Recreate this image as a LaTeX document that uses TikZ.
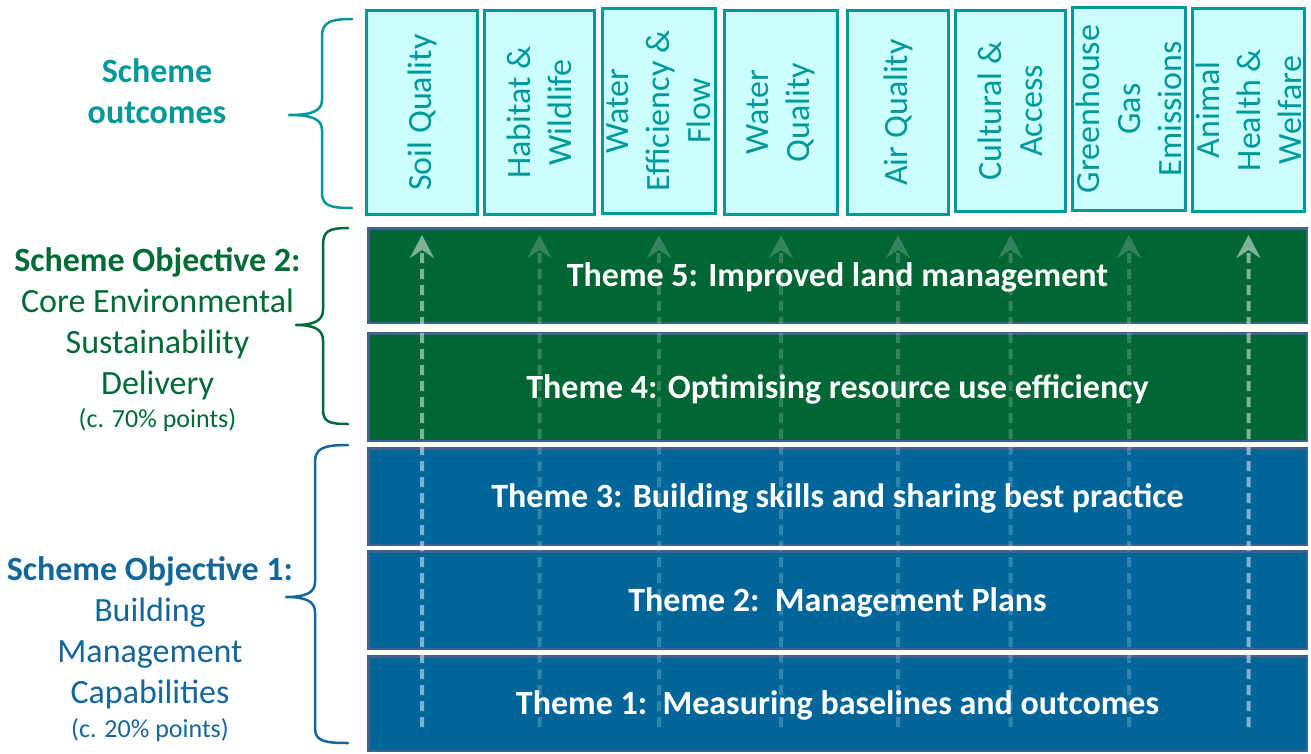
\documentclass[tikz,border=0pt]{standalone}
\usepackage{fontspec}
\setmainfont{Carlito}
\usetikzlibrary{arrows.meta}
\definecolor{tealc}{HTML}{009999}
\definecolor{cyanfill}{HTML}{CCFFFF}
\definecolor{greenbar}{HTML}{006633}
\definecolor{bluebar}{HTML}{006699}
\definecolor{barline}{HTML}{41618F}
\definecolor{greentext}{HTML}{006B35}
\definecolor{bluetext}{HTML}{15679B}
\begin{document}
\begin{tikzpicture}[x=1pt,y=-1pt,
  outbox/.style={draw=tealc, fill=cyanfill, line width=3pt, text=tealc,
    font=\fontsize{34}{41}\selectfont, align=center, inner sep=0pt, rotate=90},
  bar/.style={draw=barline, line width=2.5pt, minimum width=938.5pt, text=white,
    font=\bfseries\fontsize{34}{41}\selectfont, text height=22pt, text depth=0pt, inner sep=0pt},
  lefttext/.style={align=center, inner sep=0pt, anchor=base, font=\fontsize{34}{41}\selectfont},
  brace/.style={line width=2.5pt, line cap=round, line join=round},
  flow/.style={white, line width=4pt, dash pattern=on 10pt off 6pt,
    -{Stealth[length=23pt,width=24pt,inset=8pt]}}
]
\useasboundingbox (0,0) rectangle (1311,753);
\fill[white] (0,0) rectangle (1311,753);

% outcome boxes
\node[outbox, minimum width=204pt, minimum height=111pt] (o1) at (422,112.5) {Soil Quality};
\node[outbox, minimum width=204pt, minimum height=110pt] (o2) at (539.5,112.5) {Habitat \&\\Wildlife};
\node[outbox, minimum width=205pt, minimum height=113pt] (o3) at (659,111) {Water\\Efficiency \&\\Flow};
\node[outbox, minimum width=204pt, minimum height=113pt] (o4) at (781,112.5) {Water\\Quality};
\node[outbox, minimum width=204pt, minimum height=101pt] (o5) at (898,112.5) {Air Quality};
\node[outbox, minimum width=201pt, minimum height=110pt] (o6) at (1010.5,111) {Cultural \&\\Access};
\node[outbox, minimum width=203pt, minimum height=113pt] (o7) at (1129,109) {Greenhouse\\Gas\\Emissions};
\node[outbox, minimum width=203pt, minimum height=112pt] (o8) at (1248.5,110) {Animal\\Health \&\\Welfare};

% theme bars
\node[bar, fill=greenbar, minimum height=94.5pt] (t5) at (837.5,275.5) {Theme 5: Improved land management};
\node[bar, fill=greenbar, minimum height=107.5pt] (t4) at (837.5,387) {Theme 4: Optimising resource use efficiency};
\node[bar, fill=bluebar, minimum height=96.5pt] (t3) at (837.5,496.5) {Theme 3: Building skills and sharing best practice};
\node[bar, fill=bluebar, minimum height=97.5pt] (t2) at (837.5,600) {Theme 2:\ \ Management Plans};
\node[bar, fill=bluebar, minimum height=94.5pt] (t1) at (837.5,703.5) {Theme 1:\ \ Measuring baselines and outcomes};

% dashed arrows
\coordinate (abot) at (0,727);
\coordinate (atop) at (0,235);
\foreach \o/\op in {o1/0.5,o2/0.2,o3/0.2,o4/0.2,o5/0.2,o6/0.2,o7/0.2,o8/0.5}{
  \begin{scope}[transparency group, opacity=\op]
    \draw[flow] (\o.center |- abot) -- (\o.center |- atop);
  \end{scope}
}

% left labels (anchor=base is the baseline of the last line)
\node[lefttext, text=tealc, font=\bfseries\fontsize{34}{41}\selectfont] (so) at (157,123) {Scheme\\outcomes};
\node[lefttext, text=greentext] (obj2) at (157.5,427) {\textbf{Scheme Objective 2:}\\Core Environmental\\Sustainability\\Delivery\\[-8pt]{\fontsize{26}{30}\selectfont (c. 70\% points)}};
\node[lefttext, text=bluetext] (obj1) at (150,737) {\textbf{Scheme Objective 1:}\\Building\\Management\\Capabilities\\[-7pt]{\fontsize{26}{30}\selectfont (c. 20\% points)}};

% braces
\draw[brace, tealc] (352,19) .. controls (331,19) and (322,22) .. (322,36) -- (322,100)
  .. controls (322,111) and (312,115) .. (289,115) .. controls (312,115) and (322,119) .. (322,130)
  -- (322,193) .. controls (322,206) and (331,208) .. (352,208);
\draw[brace, greentext] (348,228) .. controls (329,228) and (323,231) .. (323,245) -- (323,310)
  .. controls (323,321) and (313,325) .. (296,325) .. controls (313,325) and (323,329) .. (323,340)
  -- (323,409) .. controls (323,422) and (329,424) .. (348,424);
\draw[brace, bluetext] (348,445) .. controls (324,445) and (315,448) .. (315,462) -- (315,582)
  .. controls (315,593) and (305,597) .. (286,597) .. controls (305,597) and (315,601) .. (315,612)
  -- (315,728) .. controls (315,741) and (324,743) .. (348,743);
\end{tikzpicture}
\end{document}
